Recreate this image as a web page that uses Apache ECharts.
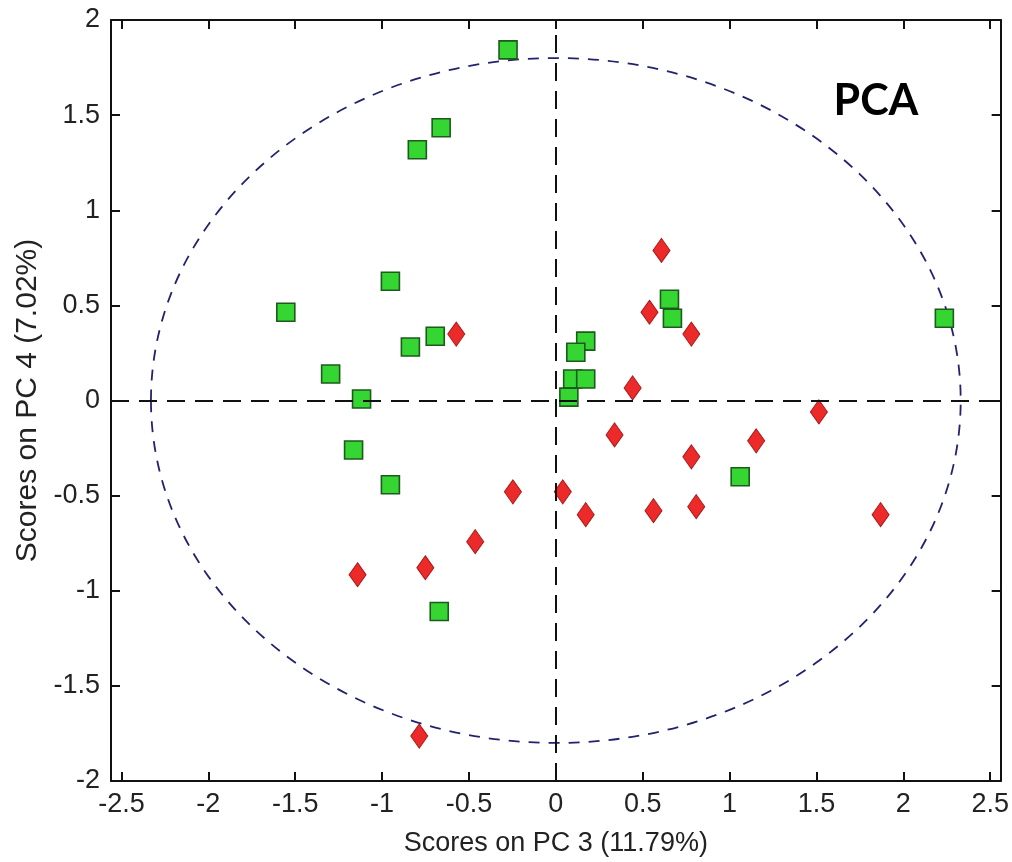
<!DOCTYPE html>
<html>
<head>
	<meta charset="utf-8">
	<title>PCA</title>
	<script src="https://cdn.jsdelivr.net/npm/echarts@6/dist/echarts.min.js"></script>
	<style>
		html, body { margin:0; padding:0; background:#fff; }
		#main { width:1012px; height:862px; }
	</style>
</head>
<body>
	<div id="main"></div>
</body>

<script type="text/javascript">
	// green squares
	var greenX = [-0.275, -0.66, -0.797, -0.952, -1.554, -0.694, -0.837, -1.296, -1.118, -1.164, -0.952, -0.671, 0.654, 0.671, 0.172, 0.115, 0.097, 0.172, 0.075, 1.061, 2.236];
	var greenY = [1.843, 1.434, 1.318, 0.627, 0.464, 0.338, 0.281, 0.139, 0.008, -0.260, -0.443, -1.109, 0.532, 0.432, 0.312, 0.254, 0.113, 0.113, 0.018, -0.401, 0.432];

	// red diamonds
	var redX = [0.608, 0.539, 0.780, -0.573, 0.442, 1.514, 0.338, 1.153, 0.780, -0.247, 0.040, 0.172, 0.562, 0.808, 1.869, -0.464, -0.751, -1.141, -0.786];
	var redY = [0.789, 0.464, 0.349, 0.349, 0.066, -0.060, -0.181, -0.212, -0.296, -0.480, -0.480, -0.600, -0.579, -0.558, -0.600, -0.742, -0.879, -0.916, -1.764];

	// confidence ellipse
	var ellipseCenter = [0, 0];
	var ellipseRadius = [2.33, 1.80];

	var xTicks = [-2.5, -2, -1.5, -1, -0.5, 0, 0.5, 1, 1.5, 2, 2.5];

	var xName = 'Scores on PC 3 (11.79%)';
	var yName = 'Scores on PC 4 (7.02%)';

	function pairs(xs, ys){
		var out = [];
		for(var i = 0; i < xs.length; i++){
			out.push([xs[i], ys[i]]);
		}
		return out;
	}

	var labelFont = {color:'#222', fontSize:27, fontFamily:'Liberation Sans, Arial, sans-serif'};
	var axisLineStyle = {onZero:false, lineStyle:{color:'#111', width:2}};
	var tickStyle = {color:'#111', width:2};

	var option = {
		backgroundColor: '#fff',
		animation: false,
		grid: {left:111, right:7, top:20, bottom:79},
		xAxis: [
			{
				type: 'value', min: -2.56, max: 2.56, position: 'bottom',
				name: xName, nameLocation: 'middle', nameGap: 49,
				nameTextStyle: labelFont,
				axisLine: axisLineStyle,
				axisTick: {inside:true, length:9, lineStyle:tickStyle, customValues: xTicks},
				axisLabel: Object.assign({margin:10, customValues: xTicks}, labelFont),
				splitLine: {show:false}
			},
			{
				type: 'value', min: -2.56, max: 2.56, position: 'top',
				axisLine: axisLineStyle,
				axisTick: {inside:true, length:9, lineStyle:tickStyle, customValues: xTicks},
				axisLabel: {show:false},
				splitLine: {show:false}
			}
		],
		yAxis: [
			{
				type: 'value', min: -2, max: 2, interval: 0.5, position: 'left',
				name: yName, nameLocation: 'middle', nameGap: 67,
				nameTextStyle: {color:'#222', fontSize:30, fontFamily:'Liberation Sans, Arial, sans-serif'},
				axisLine: axisLineStyle,
				axisTick: {inside:true, length:9, lineStyle:tickStyle},
				axisLabel: Object.assign({margin:11}, labelFont),
				splitLine: {show:false}
			},
			{
				type: 'value', min: -2, max: 2, interval: 0.5, position: 'right',
				axisLine: axisLineStyle,
				axisTick: {inside:true, length:9, lineStyle:tickStyle},
				axisLabel: {show:false},
				splitLine: {show:false}
			}
		],
		graphic: [
			{
				type: 'text', x: 876, y: 101, z: 10,
				style: {text:'PCA', align:'center', verticalAlign:'middle', font:'bold 43px Lato, sans-serif', fill:'#000'}
			}
		],
		series: [
			{
				type: 'custom',
				xAxisIndex: 0, yAxisIndex: 0,
				data: [ellipseCenter],
				z: 1,
				silent: true,
				renderItem: function(params, api){
					var c = api.coord([api.value(0), api.value(1)]);
					var s = api.size(ellipseRadius);
					return {
						type: 'ellipse',
						shape: {cx:c[0], cy:c[1], rx:s[0], ry:s[1]},
						style: {fill:null, stroke:'#22226e', lineWidth:1.8, lineDash:[11,9]}
					};
				},
				markLine: {
					silent: true,
					symbol: ['none', 'none'],
					label: {show:false},
					lineStyle: {color:'#111', width:2, type:[18,10]},
					data: [{xAxis:0}, {yAxis:0}]
				}
			},
			{
				type: 'scatter',
				name: 'green',
				data: pairs(greenX, greenY),
				symbol: 'rect',
				symbolSize: 18,
				z: 3,
				itemStyle: {color:'#35d632', borderColor:'#1d5a1d', borderWidth:1.6, opacity:1}
			},
			{
				type: 'scatter',
				name: 'red',
				data: pairs(redX, redY),
				symbol: 'diamond',
				symbolSize: [17, 24],
				z: 3,
				itemStyle: {color:'#ec2a2a', borderColor:'#a81818', borderWidth:1, opacity:1}
			}
		]
	};

	var myChart = echarts.init(document.getElementById('main'));
	myChart.setOption(option);
</script>
</html>
